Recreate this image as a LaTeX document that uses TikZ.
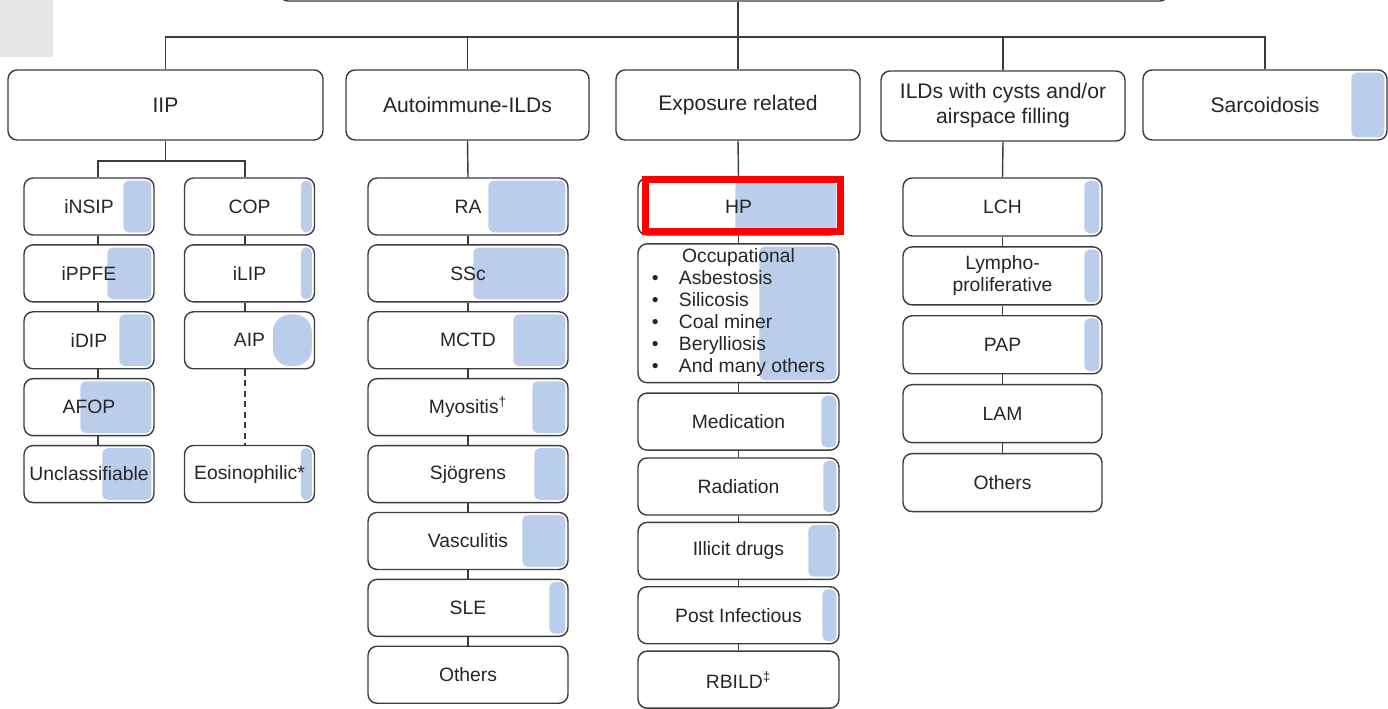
\documentclass[tikz,border=0pt]{standalone}
\usepackage{fontspec}
\setmainfont{Liberation Sans}
\usetikzlibrary{positioning,calc}
\definecolor{barblue}{RGB}{186,206,236}
\definecolor{linegray}{RGB}{60,60,60}
\definecolor{cornergray}{RGB}{230,230,230}
\tikzset{
  box/.style={rectangle, rounded corners=0.18cm, draw=linegray, line width=0.8pt, fill=white,
              minimum height=1.14cm, align=center, inner sep=2pt,
              font=\fontsize{11}{12.5}\selectfont, text=black!85},
  topbox/.style={box, minimum height=1.4cm, minimum width=4.88cm, font=\fontsize{12}{14.2}\selectfont},
  iipbox/.style={box, minimum width=2.6cm},
  autobox/.style={box, minimum width=4cm},
  expbox/.style={box, minimum width=4.02cm},
  cystbox/.style={box, minimum width=3.98cm, minimum height=1.16cm},
  bar radius/.initial=3pt,
  bar/.style={path picture={\fill[barblue, rounded corners=\pgfkeysvalueof{/tikz/bar radius}]
      ([xshift=-#1*0.02cm-1.5pt, yshift=-1.5pt]path picture bounding box.north east) rectangle
      ([xshift=-1.5pt, yshift=1.5pt]path picture bounding box.south east);}},
  link/.style={draw=linegray, line width=0.8pt},
  highlight/.style={draw=red, line width=0.14cm},
}

\begin{document}
\begin{tikzpicture}[x=0.02cm, y=-0.02cm]
\useasboundingbox (0,0) rectangle (1388,709);
\clip (0,0) rectangle (1388,709);
\fill[cornergray] (0,0) rectangle (53,57);

% main categories
\node[box, minimum width=17.8cm, minimum height=1.24cm] (root) at (724,-30) {};
\node[topbox, minimum width=6.3cm] (iip) at (165.5,105) {IIP};
\node[topbox, minimum width=4.86cm] (auto) at (467.5,105) {Autoimmune-ILDs};
\node[topbox] (expo) at (738,105) {Exposure related};
\node[topbox] (cyst) at (1003,106) {ILDs with cysts and/or\\airspace filling};
\node[topbox, bar=33] (sarc) at (1265,105) {Sarcoidosis};

\coordinate (bus) at (0,37);
\coordinate (fork) at (0,161);
\coordinate (colA) at (98,0);
\coordinate (colB) at (245,0);

% IIP
\node[iipbox, bar=28] (insip) at (89,206.5) {iNSIP};
\node[iipbox, bar=44, below=0.17cm of insip] (ippfe) {iPPFE};
\node[iipbox, bar=32, below=0.17cm of ippfe] (idip) {iDIP};
\node[iipbox, bar=71, below=0.17cm of idip] (afop) {AFOP};
\node[iipbox, bar=49, below=0.17cm of afop] (uncl) {Unclassifiable};
\node[iipbox, bar=11] (cop) at (249.5,206.5) {COP};
\node[iipbox, bar=11, below=0.17cm of cop] (ilip) {iLIP};
\node[iipbox, bar radius=10pt, bar=39, below=0.17cm of ilip] (aip) {AIP};
\node[iipbox, bar=11] (eos) at (249.5,474) {Eosinophilic*};

% autoimmune
\node[autobox, bar=77] (ra) at (468,206.5) {RA};
\node[autobox, bar=92, below=0.17cm of ra] (ssc) {SSc};
\node[autobox, bar=52, below=0.17cm of ssc] (mctd) {MCTD};
\node[autobox, bar=33, below=0.17cm of mctd] (myo) {Myositis\textsuperscript{\textdagger}};
\node[autobox, bar=31, below=0.17cm of myo] (sjo) {Sjögrens};
\node[autobox, bar=43, below=0.17cm of sjo] (vasc) {Vasculitis};
\node[autobox, bar=16, below=0.17cm of vasc] (sle) {SLE};
\node[autobox, below=0.17cm of sle] (aoth) {Others};

% exposure
\node[expbox, bar=101] (hp) at (738.5,206.5) {HP};
\node[expbox, bar=77, minimum height=2.74cm, below=0.15cm of hp] (occ) {%
  \begin{tabular}{@{}p{0.54cm}@{}l@{}}
  \multicolumn{2}{c}{Occupational}\\
  \textbullet & Asbestosis\\
  \textbullet & Silicosis\\
  \textbullet & Coal miner\\
  \textbullet & Berylliosis\\
  \textbullet & And many others
  \end{tabular}};
\node[expbox, bar=15, below=0.18cm of occ] (med) {Medication};
\node[expbox, bar=13, below=0.13cm of med] (rad) {Radiation};
\node[expbox, bar=28, below=0.12cm of rad] (drug) {Illicit drugs};
\node[expbox, bar=14, below=0.12cm of drug] (post) {Post Infectious};
\node[expbox, below=0.12cm of post] (rbild) {RBILD\textsuperscript{\textdaggerdbl}};

% cysts and airspace filling
\node[cystbox, bar=15] (lch) at (1002.5,207) {LCH};
\node[cystbox, bar=15, below=0.19cm of lch] (lym) {Lympho-\\proliferative};
\node[cystbox, bar=15, below=0.19cm of lym] (pap) {PAP};
\node[cystbox, below=0.19cm of pap] (lam) {LAM};
\node[cystbox, below=0.19cm of lam] (coth) {Others};

% connectors
\draw[link] (root.south -| expo.north) -- (expo.north);
\draw[link] (iip.north) |- (sarc.north |- bus) -- (sarc.north);
\draw[link] (auto.north) -- (auto.north |- bus);
\draw[link] (cyst.north) -- (cyst.north |- bus);

\draw[link] (iip.south) -- (iip.south |- fork);
\draw[link] (insip.north -| colA) |- (colB |- fork) -- (cop.north -| colB);
\foreach \a/\b in {insip/ippfe, ippfe/idip, idip/afop, afop/uncl}
  \draw[link] (\a.south -| colA) -- (\b.north -| colA);
\foreach \a/\b in {cop/ilip, ilip/aip}
  \draw[link] (\a.south -| colB) -- (\b.north -| colB);
\draw[link, dash pattern=on 3.5pt off 2.5pt] (aip.south -| colB) -- (eos.north -| colB);

\draw[link] (auto.south) -- (ra.north);
\foreach \a/\b in {ra/ssc, ssc/mctd, mctd/myo, myo/sjo, sjo/vasc, vasc/sle, sle/aoth}
  \draw[link] (\a.south) -- (\b.north);

\draw[link] (expo.south) -- (hp.north);
\foreach \a/\b in {hp/occ, occ/med, med/rad, rad/drug, drug/post, post/rbild}
  \draw[link] (\a.south) -- (\b.north);

\draw[link] (cyst.south) -- (lch.north);
\foreach \a/\b in {lch/lym, lym/pap, pap/lam, lam/coth}
  \draw[link] (\a.south) -- (\b.north);

% highlight
\draw[highlight] ($(hp.north west)+(8,2)$) rectangle ($(hp.south east)+(1,-4)$);
\end{tikzpicture}
\end{document}
